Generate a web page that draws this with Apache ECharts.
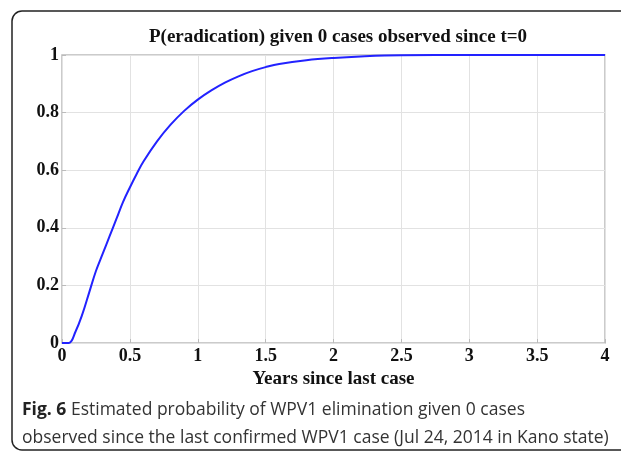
<!DOCTYPE html>
<html>
<head>
<meta charset="utf-8">
<script src="https://cdn.jsdelivr.net/npm/echarts@6/dist/echarts.min.js"></script>
<style>
  html, body { margin: 0; padding: 0; background: #fff; }
  #chart { width: 621px; height: 453px; }
</style>
</head>
<body>
<div id="chart"></div>
<script>
// years since last case vs. probability of eradication
const years = [0, 0.05, 0.1, 0.15, 0.2, 0.25, 0.3, 0.35, 0.4, 0.45, 0.5, 0.55, 0.6, 0.7, 0.8, 0.9, 1.0,
  1.1, 1.2, 1.3, 1.4, 1.5, 1.6, 1.8, 2.0, 2.2, 2.5, 3.0, 3.5, 4.0];
const prob = [0, 0, 0.04, 0.10, 0.175, 0.25, 0.31, 0.37, 0.43, 0.49, 0.54, 0.587, 0.63, 0.70, 0.758, 0.806, 0.845,
  0.877, 0.904, 0.926, 0.944, 0.958, 0.969, 0.982, 0.99, 0.995, 0.999, 1, 1, 1];

const titleText = 'P(eradication) given 0 cases observed since t=0';
const xName = 'Years since last case';
const captionBold = 'Fig. 6';
const captionLine1 = ' Estimated probability of WPV1 elimination given 0 cases';
const captionLine2 = 'observed since the last confirmed WPV1 case (Jul 24, 2014 in Kano state)';

const serif = '"Liberation Serif", "DejaVu Serif", serif';
const chart = echarts.init(document.getElementById('chart'));

const option = {
  animation: false,
  title: {
    text: titleText,
    left: 333,
    top: 23,
    textAlign: 'center',
    textStyle: { fontFamily: serif, fontWeight: 'bold', fontSize: 19, color: '#111' }
  },
  grid: { left: 62, right: 16, top: 55, bottom: 110, show: true, borderColor: '#bbb', borderWidth: 1.5 },
  xAxis: {
    type: 'value',
    min: 0,
    max: 4,
    interval: 0.5,
    name: xName,
    nameLocation: 'middle',
    nameGap: 27,
    nameTextStyle: { fontFamily: serif, fontWeight: 'bold', fontSize: 19, color: '#111' },
    axisLine: { show: false },
    axisTick: { show: true, inside: true, length: 4, lineStyle: { color: '#bbb' } },
    axisLabel: { fontFamily: serif, fontWeight: 'bold', fontSize: 18, color: '#111', margin: 4 },
    splitLine: { show: true, lineStyle: { color: '#e2e2e2', width: 1 } }
  },
  yAxis: {
    type: 'value',
    min: 0,
    max: 1,
    interval: 0.2,
    axisLine: { show: false },
    axisTick: { show: true, inside: true, length: 4, lineStyle: { color: '#bbb' } },
    axisLabel: { fontFamily: serif, fontWeight: 'bold', fontSize: 18, color: '#111', margin: 3 },
    splitLine: { show: true, lineStyle: { color: '#e2e2e2', width: 1 } }
  },
  series: [{
    type: 'line',
    data: years.map((t, i) => [t, prob[i]]),
    smooth: 0.4,
    showSymbol: false,
    lineStyle: { color: '#2222ff', width: 2 }
  }],
  graphic: [
    {
      type: 'rect',
      shape: { x: 12, y: 11, width: 640, height: 439, r: [10, 0, 0, 10] },
      style: { fill: 'none', stroke: '#222', lineWidth: 1.5 },
      silent: true
    },
    {
      type: 'text',
      left: 22,
      top: 401,
      style: {
        text: '{b|' + captionBold + '}{n|' + captionLine1 + '}\n{n|' + captionLine2 + '}',
        rich: {
          b: { fontFamily: '"Open Sans", sans-serif', fontWeight: 'bold', fontSize: 17.5, fill: '#222', lineHeight: 28 },
          n: { fontFamily: '"Open Sans", sans-serif', fontSize: 17.5, fill: '#333', lineHeight: 28 }
        }
      }
    }
  ]
};

chart.setOption(option);
</script>
</body>
</html>
